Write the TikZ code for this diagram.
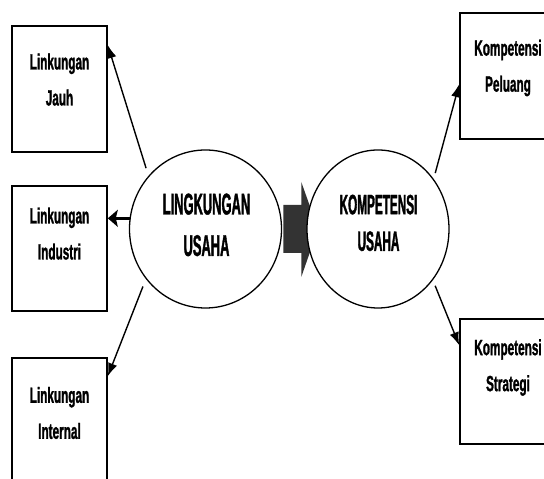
\documentclass[tikz,border=0pt]{standalone}
\usepackage{fontspec}
\setmainfont{Liberation Sans}
\newfontfamily\boxfont{Liberation Sans Bold}[FakeStretch=0.535, FakeBold=1.2]
\newfontfamily\lcircfont{Liberation Sans Bold}[FakeStretch=0.43, FakeBold=1.2]
\newfontfamily\rcircfont{Liberation Sans Bold}[FakeStretch=0.42, FakeBold=1.2]
\usetikzlibrary{shapes.geometric,arrows.meta,calc}
\definecolor{blockgray}{HTML}{333333}
\begin{document}
\begin{tikzpicture}[x=1pt,y=1pt,
  box/.style={draw, line width=1.6pt, minimum width=95pt, minimum height=126pt, inner sep=0pt},
  ring/.style={draw, ellipse, line width=1.3pt, fill=white, minimum height=158pt, inner sep=0pt},
  boxtext/.style={anchor=north, inner sep=0pt, align=center, font={\boxfont\fontsize{22}{36}\selectfont}},
  link/.style={line width=1.4pt, -{Latex[length=13pt,width=9.5pt]}},
]
\useasboundingbox (0,0) rectangle (544,479);
\clip (0,0) rectangle (544,479);
% boxes
\node[box] (B1) at (59.5,390) {};
\node[box, minimum height=125pt] (B2) at (59.5,230.5) {};
\node[box] (B3) at (59.5,58) {};
\node[box] (B4) at (507.5,403) {};
\node[box, minimum height=125pt] (B5) at (507.5,97.5) {};
% box texts
\node[boxtext] (T1) at (59.5,425.7) {Linkungan\\Jauh};
\node[boxtext] (T2) at (59.5,271.7) {Linkungan\\Industri};
\node[boxtext] (T3) at (59.5,92.3) {Linkungan\\Internal};
\node[boxtext] (T4) at (508,439.5) {Kompetensi\\Peluang};
\node[boxtext] (T5) at (508,140) {Kompetensi\\Strategi};
% circles
\node[ring, minimum width=152pt] (L) at (205.5,250) {};
\fill[blockgray] (283.3,226) -- (283.3,274) -- (301.3,274) -- (301.3,297) -- (318,250) -- (301.3,202) -- (301.3,226) -- cycle;
\node[ring, minimum width=142pt] (R) at (378,250) {};
\node[anchor=north, inner sep=0pt, align=center, font={\lcircfont\fontsize{30}{41.5}\selectfont}] (TL) at (206.5,285.7) {LINGKUNGAN\\USAHA};
\node[anchor=north, inner sep=0pt, align=center, font={\rcircfont\fontsize{28}{36.6}\selectfont}] (TR) at (378.5,284.5) {KOMPETENSI\\USAHA};
% connectors
\draw[link, shorten <=8pt] (L.137.8) -- ($(B1.north east)+(0,-20)$);
\draw[line width=3.5pt, -{Stealth[length=10pt,width=17pt,inset=2pt]}] (L.172) -- (L.172 -| B2.east);
\draw[link, shorten <=8pt] (L.220.5) -- ($(B3.north east)+(0,-19)$);
\draw[link, shorten <=6pt] (R.42.5) -- ($(B4.north west)+(0,-72)$);
\draw[link, shorten <=6pt] (R.-43) -- ($(B5.north west)+(0,-27)$);
\end{tikzpicture}
\end{document}
